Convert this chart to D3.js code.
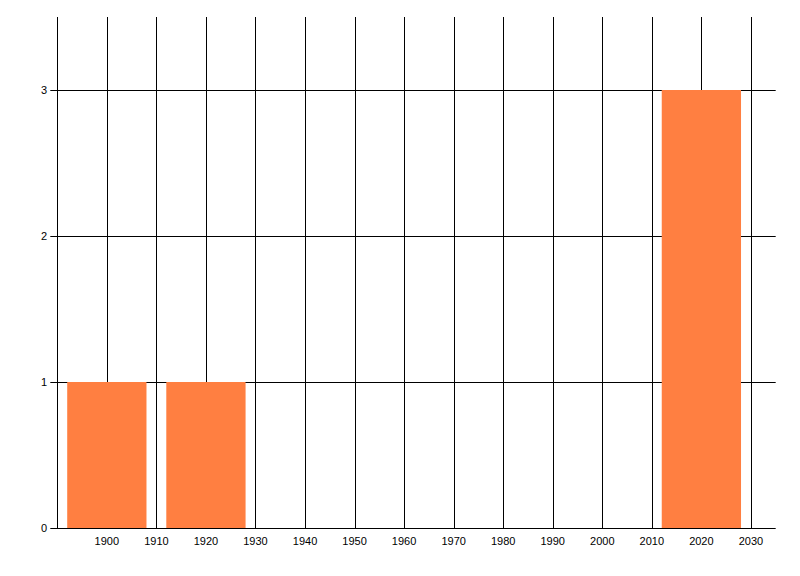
<!DOCTYPE html>
<html>
<head>
<meta charset="utf-8">
<script src="https://cdn.jsdelivr.net/npm/d3@7"></script>
<style>
body{margin:0;background:#fff;}
svg{display:block;}
text{font-family:"Liberation Sans",Arial,sans-serif;font-size:11px;fill:#000;}
</style>
</head>
<body>
<svg id="chart" width="800" height="576"></svg>
<script>
const binCenters = [1900, 1920, 2020];
const counts = [1, 1, 3];
const binWidth = 20;
const xTicks = [1900,1910,1920,1930,1940,1950,1960,1970,1980,1990,2000,2010,2020,2030];
const yTicks = [0,1,2,3];

(function () {
const svg = d3.select("#chart");
const pLeft = 57.3, pRight = 775.7, pTop = 17, pBottom = 528;
const x = d3.scaleLinear().domain([1890, 2035]).range([pLeft, pRight]);
const y = d3.scaleLinear().domain([0, 3.5]).range([pBottom, pTop]);

// vertical gridlines
svg.append("g").selectAll("line").data(xTicks).join("line")
  .attr("x1", d => Math.round(x(d)) + 0.5).attr("x2", d => Math.round(x(d)) + 0.5)
  .attr("y1", pTop).attr("y2", pBottom)
  .attr("stroke", "#000").attr("stroke-width", 1);

// horizontal gridlines
svg.append("g").selectAll("line").data(yTicks.filter(d => d > 0)).join("line")
  .attr("x1", pLeft - 7).attr("x2", pRight)
  .attr("y1", d => Math.round(y(d)) + 0.5).attr("y2", d => Math.round(y(d)) + 0.5)
  .attr("stroke", "#000").attr("stroke-width", 1);

// bars
svg.append("g").selectAll("rect").data(binCenters).join("rect")
  .attr("x", d => x(d - binWidth * 0.4))
  .attr("width", d => x(d + binWidth * 0.4) - x(d - binWidth * 0.4))
  .attr("y", (d, i) => y(counts[i]))
  .attr("height", (d, i) => y(0) - y(counts[i]))
  .attr("fill", "#FF7F41");

// axis lines
svg.append("line").attr("x1", Math.round(pLeft) + 0.5).attr("x2", Math.round(pLeft) + 0.5)
  .attr("y1", pTop).attr("y2", pBottom).attr("stroke", "#000");
svg.append("line").attr("x1", pLeft - 7).attr("x2", pRight)
  .attr("y1", Math.round(pBottom) + 0.5).attr("y2", Math.round(pBottom) + 0.5).attr("stroke", "#000");

// x labels
svg.append("g").selectAll("text").data(xTicks).join("text")
  .attr("x", d => x(d)).attr("y", 545)
  .attr("text-anchor", "middle").text(d => d);

// y labels
svg.append("g").selectAll("text").data(yTicks).join("text")
  .attr("x", 47).attr("y", d => y(d) + 4)
  .attr("text-anchor", "end").text(d => d);
})();
</script>
</body>
</html>
